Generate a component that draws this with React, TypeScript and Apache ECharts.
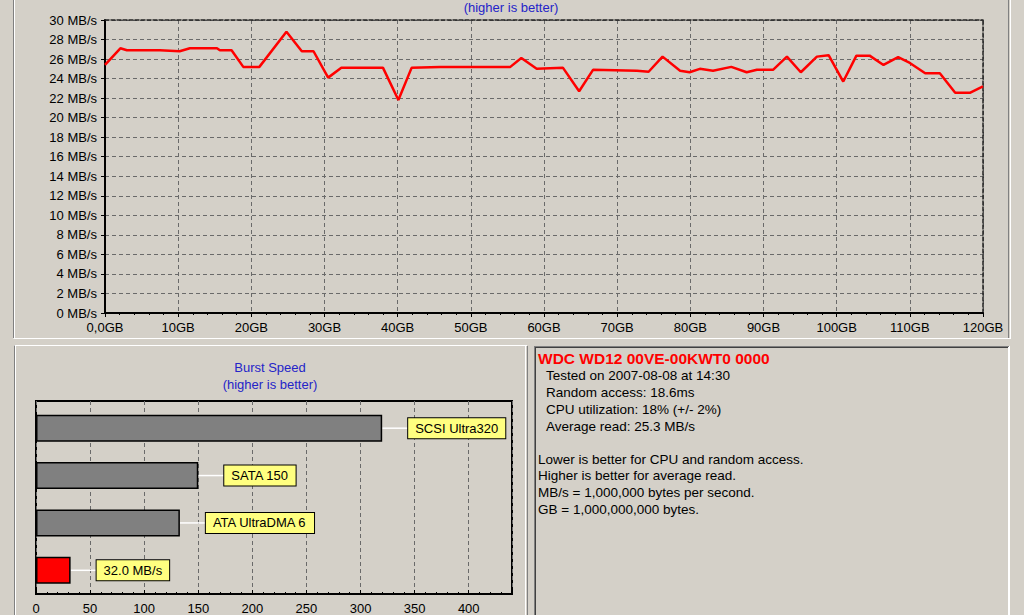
import React, { useEffect, useRef } from "react";
import * as echarts from "echarts";

// ---- Transfer rate (top chart) ----
const gbPositions = [0, 2.1, 3.0, 7.5, 10.2, 11.6, 15.3, 15.7, 17.3, 18.9, 21.1, 24.8, 26.9, 28.5, 30.5, 32.3, 38.0, 40.1, 41.9, 45.8, 55.4, 56.9, 59.0, 62.6, 64.8, 66.7, 72.7, 74.3, 76.2, 78.6, 79.9, 81.3, 83.1, 85.6, 87.7, 89.1, 91.3, 93.2, 95.1, 97.3, 98.9, 100.9, 102.7, 104.5, 106.4, 108.4, 110.0, 112.1, 114.1, 116.2, 118.2, 120];
const readSpeeds = [25.4, 27.1, 26.9, 26.9, 26.8, 27.1, 27.1, 26.9, 26.9, 25.2, 25.2, 28.8, 26.8, 26.8, 24.1, 25.1, 25.1, 21.8, 25.1, 25.2, 25.2, 26.1, 25.0, 25.1, 22.7, 24.9, 24.8, 24.7, 26.25, 24.8, 24.65, 25.0, 24.8, 25.2, 24.65, 24.9, 24.9, 26.25, 24.65, 26.25, 26.4, 23.7, 26.35, 26.35, 25.4, 26.2, 25.6, 24.55, 24.55, 22.55, 22.55, 23.2];

// ---- Burst speed (bottom-left chart) ----
const burstCategories = ["SCSI Ultra320", "SATA 150", "ATA UltraDMA 6", "32.0 MB/s"];
const burstValues = [320, 150, 133, 32];
const burstIsTested = [false, false, false, true];

// ---- Info panel ----
const driveName = "WDC WD12 00VE-00KWT0 0000";
const driveStats = [
  "Tested on 2007-08-08 at 14:30",
  "Random access: 18.6ms",
  "CPU utilization: 18% (+/- 2%)",
  "Average read: 25.3 MB/s",
];
const notes = [
  "Lower is better for CPU and random access.",
  "Higher is better for average read.",
  "MB/s = 1,000,000 bytes per second.",
  "GB = 1,000,000,000 bytes.",
];

const FONT = "'Liberation Sans', Arial, sans-serif";
const BG = "#D4D0C8";
const BLUE = "#2424C8";
const GRID_DASH = { color: "#6a6a6a", type: [4, 3] as any, width: 1 };

export default function App() {
  const ref = useRef<HTMLDivElement>(null);
  useEffect(() => {
    if (!ref.current) return;
    const chart = echarts.init(ref.current, null, { renderer: "svg" });

    const line = (x1: number, y1: number, x2: number, y2: number, color: string, w = 1) => ({
      type: "line",
      shape: { x1, y1, x2, y2 },
      style: { stroke: color, lineWidth: w },
      silent: true,
    });

    const graphics: any[] = [
      // top panel borders
      line(13.5, 0, 13.5, 338, "#808080"),
      line(14.5, 0, 14.5, 338, "#ffffff"),
      line(13.5, 338.5, 1010, 338.5, "#ffffff"),
      line(1008.5, 0, 1008.5, 338, "#808080"),
      line(1010.5, 0, 1010.5, 339, "#ffffff"),
      // bottom-left panel borders
      line(14, 345.5, 527, 345.5, "#ffffff"),
      line(14.5, 345.5, 14.5, 615, "#808080"),
      line(15.5, 346, 15.5, 615, "#ffffff"),
      line(525.5, 346, 525.5, 615, "#ffffff"),
      line(527.5, 346, 527.5, 615, "#808080"),
      // bottom-right panel borders (sunken)
      line(534, 346.5, 1009, 346.5, "#808080", 1),
      line(535, 347.5, 1008, 347.5, "#404040", 1),
      line(534.5, 346, 534.5, 615, "#808080", 1),
      line(535.5, 347, 535.5, 615, "#404040", 1),
      line(1008.5, 347, 1008.5, 615, "#ffffff", 1),
      line(1009.5, 346, 1009.5, 615, "#ffffff", 1),
      // titles
      {
        type: "text",
        x: 511, y: 7,
        style: { text: "(higher is better)", fill: BLUE, font: `13px ${FONT}`, textAlign: "center", textVerticalAlign: "middle" },
      },
      {
        type: "text",
        x: 270, y: 367,
        style: { text: "Burst Speed", fill: BLUE, font: `13px ${FONT}`, textAlign: "center", textVerticalAlign: "middle" },
      },
      {
        type: "text",
        x: 270, y: 384,
        style: { text: "(higher is better)", fill: BLUE, font: `13px ${FONT}`, textAlign: "center", textVerticalAlign: "middle" },
      },
      {
        type: "text",
        x: 538, y: 358,
        style: { text: driveName, fill: "#FF0000", font: `bold 15.5px ${FONT}`, textAlign: "left", textVerticalAlign: "middle" },
      },
    ];
    driveStats.forEach((t, i) => {
      graphics.push({
        type: "text",
        x: 546, y: 375 + i * 17,
        style: { text: t, fill: "#000", font: `13.5px ${FONT}`, textAlign: "left", textVerticalAlign: "middle" },
      });
    });
    notes.forEach((t, i) => {
      graphics.push({
        type: "text",
        x: 538, y: 459 + i * 16.8,
        style: { text: t, fill: "#000", font: `13.5px ${FONT}`, textAlign: "left", textVerticalAlign: "middle" },
      });
    });

    const option: any = {
      animation: false,
      backgroundColor: BG,
      textStyle: { fontFamily: FONT },
      grid: [
        { left: 105, top: 20, width: 878, height: 293, show: false },
        { left: 36, top: 401, width: 476, height: 197, show: true, borderColor: "#000", borderWidth: 2, backgroundColor: "transparent" },
        { left: 36, top: 404.5, width: 476, height: 189.5, show: false },
      ],
      xAxis: [
        {
          type: "value", gridIndex: 0, min: 0, max: 120, interval: 10,
          axisLine: { show: true, onZero: false, lineStyle: { color: "#000", width: 2 } },
          axisTick: { show: true, length: 4, lineStyle: { color: "#000" } },
          minorTick: { show: true, splitNumber: 5, length: 2, lineStyle: { color: "#000" } },
          axisLabel: {
            color: "#000", fontSize: 13, margin: 8, fontFamily: FONT,
            formatter: (v: number) => (v === 0 ? "0,0GB" : `${v}GB`),
          },
          splitLine: { show: true, lineStyle: GRID_DASH },
        },
        {
          type: "value", gridIndex: 0, min: 0, max: 120, position: "top",
          axisLine: { show: true, onZero: false, lineStyle: { color: "#222", width: 1.5, type: [4, 2] } },
          axisTick: { show: false }, axisLabel: { show: false }, splitLine: { show: false },
        },
        {
          type: "value", gridIndex: 1, min: 0, max: 440, interval: 50,
          axisLine: { show: false },
          axisTick: { show: true, inside: true, length: 4, lineStyle: { color: "#000" } },
          minorTick: { show: true, splitNumber: 5, length: 2, lineStyle: { color: "#000" } },
          axisLabel: {
            color: "#000", fontSize: 13, margin: 8, fontFamily: FONT, showMaxLabel: false,
            formatter: (v: number) => (v > 400 ? "" : `${v}`),
          },
          splitLine: { show: true, lineStyle: GRID_DASH },
        },
        {
          type: "value", gridIndex: 2, min: 0, max: 440, show: false,
        },
      ],
      yAxis: [
        {
          type: "value", gridIndex: 0, min: 0, max: 30, interval: 2,
          axisLine: { show: true, onZero: false, lineStyle: { color: "#000", width: 2 } },
          axisTick: { show: true, length: 4, lineStyle: { color: "#000" } },
          axisLabel: { color: "#000", fontSize: 13, margin: 8, fontFamily: FONT, formatter: "{value} MB/s" },
          splitLine: { show: true, lineStyle: GRID_DASH },
        },
        {
          type: "value", gridIndex: 0, min: 0, max: 30, position: "right",
          axisLine: { show: true, onZero: false, lineStyle: { color: "#222", width: 1.5, type: [4, 2] } },
          axisTick: { show: false }, axisLabel: { show: false }, splitLine: { show: false },
        },
        {
          type: "value", gridIndex: 1, min: 0, max: 1, show: false,
        },
        {
          type: "category", gridIndex: 2, data: burstCategories, inverse: true, show: false,
        },
      ],
      series: [
        {
          type: "line",
          xAxisIndex: 0, yAxisIndex: 0,
          data: gbPositions.map((g, i) => [g, readSpeeds[i]]),
          showSymbol: false, symbol: "none",
          lineStyle: { color: "#FF0000", width: 2.5 },
          z: 5,
        },
        {
          type: "custom",
          xAxisIndex: 3, yAxisIndex: 3,
          data: burstValues.map((v, i) => [v, i]),
          renderItem: (params: any, api: any) => {
            const p = api.coord([api.value(0), api.value(1)]);
            return {
              type: "line",
              shape: { x1: p[0], y1: p[1], x2: p[0] + 26, y2: p[1] },
              style: { stroke: "#ffffff", lineWidth: 1.5 },
            };
          },
          z: 3,
        },
        {
          type: "bar",
          xAxisIndex: 3, yAxisIndex: 3,
          barWidth: 27,
          data: burstValues.map((v, i) => ({
            value: v,
            itemStyle: {
              color: burstIsTested[i] ? "#FF0000" : "#808080",
              borderColor: "#000",
              borderWidth: 1.5,
            },
          })),
          label: {
            show: true,
            position: "right",
            distance: 26,
            formatter: (p: any) => burstCategories[p.dataIndex],
            color: "#000",
            fontSize: 13,
            fontFamily: FONT,
            backgroundColor: "#FFFF80",
            borderColor: "#000",
            borderWidth: 1,
            padding: [3, 7, 2, 7],
            lineHeight: 15,
          },
          z: 4,
        },
      ],
      graphic: graphics,
    };
    chart.setOption(option);
    return () => chart.dispose();
  }, []);

  return (
    <div
      ref={ref}
      style={{ position: "absolute", left: 0, top: 0, width: 1024, height: 615 }}
    />
  );
}
